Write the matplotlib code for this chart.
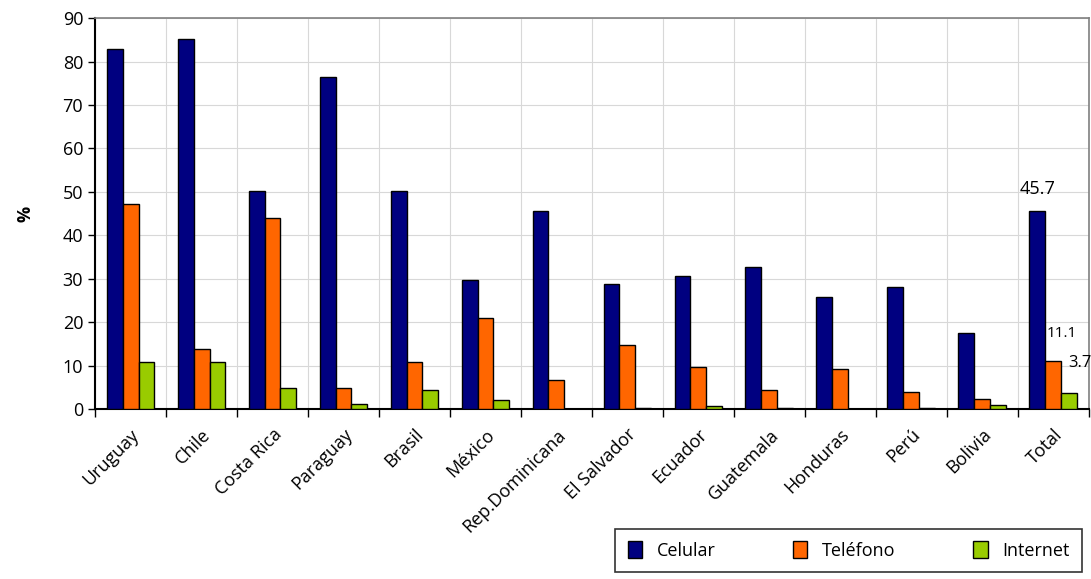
import numpy as np
import matplotlib
matplotlib.use("Agg")
import matplotlib.pyplot as plt

paises = ["Uruguay", "Chile", "Costa Rica", "Paraguay", "Brasil", "México",
          "Rep.Dominicana", "El Salvador", "Ecuador", "Guatemala", "Honduras",
          "Perú", "Bolivia", "Total"]
celular = [82.9, 85.1, 50.2, 76.4, 50.2, 29.7, 45.5, 28.8, 30.6, 32.7, 25.9, 28.0, 17.6, 45.7]
telefono = [47.1, 13.9, 44.1, 4.8, 10.9, 20.9, 6.6, 14.8, 9.6, 4.4, 9.3, 4.0, 2.3, 11.1]
internet = [10.9, 10.9, 4.8, 1.2, 4.4, 2.1, 0.0, 0.3, 0.8, 0.3, 0.0, 0.3, 0.9, 3.7]

plt.rcParams["font.family"] = ["Open Sans", "DejaVu Sans"]

fig = plt.figure(figsize=(10.91, 5.79), dpi=100)
ax = fig.add_axes([0.0871, 0.2936, 0.911, 0.675])

x = np.arange(len(paises))
w = 0.225
ax.bar(x - w, celular, w, color="#000080", edgecolor="black", linewidth=1, label="Celular", zorder=3)
ax.bar(x, telefono, w, color="#FF6600", edgecolor="black", linewidth=1, label="Teléfono", zorder=3)
ax.bar(x + w, internet, w, color="#99CC00", edgecolor="black", linewidth=1, label="Internet", zorder=3)

ax.set_xlim(-0.5, len(paises) - 0.5)
ax.set_ylim(0, 90)
ax.set_yticks(range(0, 91, 10))
ax.tick_params(axis="y", labelsize=13, length=5, width=1)

# ticks y grid verticales en los limites de cada grupo
bordes = np.arange(-0.5, len(paises) + 0.5, 1)
ax.set_xticks(bordes)
ax.set_xticklabels([])
ax.set_xticks(x, minor=True)
ax.set_xticklabels(paises, minor=True, rotation=45, ha="right",
                   rotation_mode="anchor", fontsize=13)
ax.tick_params(axis="x", which="major", length=6, width=1)
ax.tick_params(axis="x", which="minor", length=0, pad=12)

ax.grid(True, which="major", color="#d8d8d8", linewidth=0.8, zorder=0)
ax.set_axisbelow(True)

for s in ["left", "bottom"]:
    ax.spines[s].set_color("black")
    ax.spines[s].set_linewidth(1.5)
for s in ["top", "right"]:
    ax.spines[s].set_color("#808080")
    ax.spines[s].set_linewidth(1.2)

ax.set_ylabel("%", fontsize=13, fontweight="bold", labelpad=20)

# etiquetas del total
i = len(paises) - 1
ax.text(x[i] - w, celular[i] + 3, "45.7", ha="center", va="bottom", fontsize=13)
ax.text(x[i] + 0.12, telefono[i] + 4.5, "11.1", ha="center", va="bottom", fontsize=11)
ax.text(x[i] + w - 0.02, internet[i] + 5.0, "3.7", ha="left", va="bottom", fontsize=12,
        clip_on=False)

leg = fig.legend(loc="lower right", bbox_to_anchor=(1.0, -0.004), ncol=3, fontsize=13,
                 frameon=True, fancybox=False, edgecolor="black", columnspacing=4.3,
                 handlelength=0.8, handleheight=1.0, borderpad=0.7)
leg.get_frame().set_linewidth(1.2)

fig.savefig("out.png", dpi=100, facecolor="white")
